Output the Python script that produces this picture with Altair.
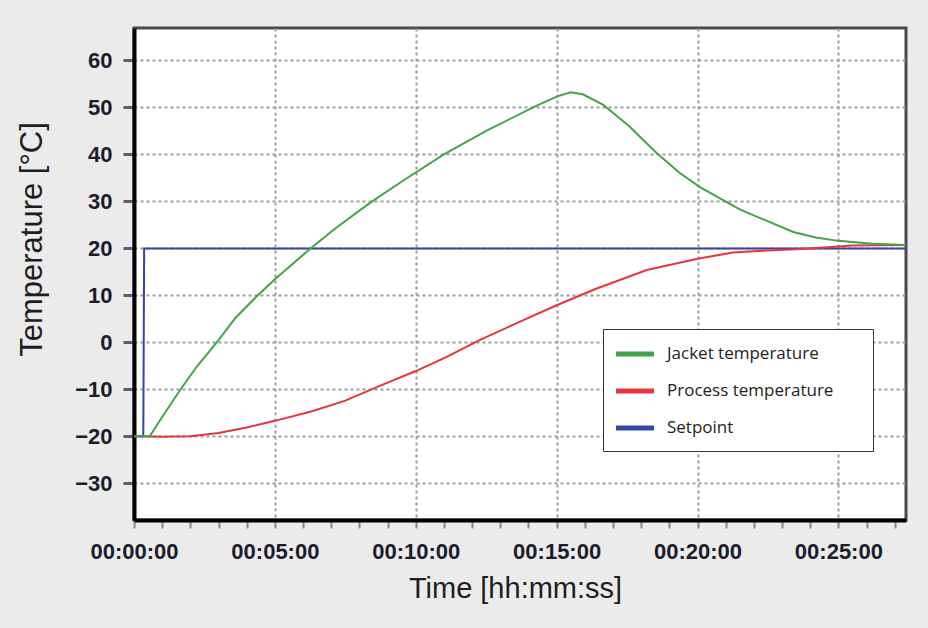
import altair as alt
import pandas as pd

series_names = ["Jacket temperature", "Process temperature", "Setpoint"]
series_colors = ["#3fa548", "#e8353c", "#3546a2"]

# time in minutes, temperature in °C
jacket_t = [0.0, 0.56, 1.03, 1.62, 2.21, 2.98, 3.6, 4.34, 4.99, 6.23, 7.2, 8.4, 9.6, 11.0, 12.5,
            14.2, 15.0, 15.5, 15.93, 16.64, 17.58, 18.53, 19.36, 20.1, 21.5, 22.4,
            23.4, 24.2, 25.0, 26.2, 27.4]
jacket_v = [-20, -20, -15.6, -10.3, -5.3, 0.3, 5.2, 9.7, 13.4, 19.8, 24.5, 29.8, 34.6, 40.0, 45.0,
            50.1, 52.3, 53.2, 52.8, 50.6, 46.0, 40.4, 36.1, 33.0, 28.3, 26.0,
            23.5, 22.3, 21.6, 21.0, 20.7]

process_t = [0.0, 1.0, 2.0, 3.0, 4.0, 5.0, 6.35, 7.5, 8.7, 10.0, 11.1, 12.3, 13.7, 15.0, 16.4,
             18.2, 20.0, 21.25, 22.3, 23.5, 24.5, 25.5, 27.4]
process_v = [-20, -20.1, -20, -19.3, -18.1, -16.7, -14.6, -12.4, -9.3, -6.1, -3.1, 0.6, 4.4, 7.9,
             11.4, 15.4, 17.8, 19.1, 19.5, 19.8, 20.2, 20.6, 20.7]

setpoint_t = [0.0, 0.33, 0.36, 27.4]
setpoint_v = [-20, -20, 20, 20]

x_ticks = list(range(0, 28))
y_ticks = [-30, -20, -10, 0, 10, 20, 30, 40, 50, 60]
x_domain = [0, 27.4]
y_domain = [-37.8, 66.9]


def frame(name, t, v):
    return pd.DataFrame({"t": t, "v": v, "series": name})


df_j = frame(series_names[0], jacket_t, jacket_v)
df_p = frame(series_names[1], process_t, process_v)
df_s = frame(series_names[2], setpoint_t, setpoint_v)

label_font = "Liberation Sans, Arial"
title_font = "Liberation Sans, Arial"
# non-breaking spaces followed by a zero-width space so that trimming keeps them
legend_pad = "\u00a0" * 6 + "\u200b"

x_enc = alt.X(
    "t:Q",
    scale=alt.Scale(domain=x_domain, nice=False, zero=False),
    title="Time [hh:mm:ss]",
    axis=alt.Axis(
        values=x_ticks,
        labelExpr="datum.value % 5 === 0 ? '00:' + (datum.value < 10 ? '0' : '') + datum.value + ':00' : ''",
        labelFont=label_font,
        labelFontSize=22,
        labelFontWeight="bold",
        labelColor="#1c1c2c",
        labelPadding=13,
        labelOverlap=False,
        labelFlush=False,
        tickSize=8,
        tickWidth=2,
        tickColor="#8a8a8a",
        domainColor="black",
        domainWidth=4,
        grid=True,
        gridColor="#9c9c9c",
        gridDash=[3, 3],
        gridWidth=2,
        gridOpacity={"condition": {"test": "datum.value % 5 === 0", "value": 1}, "value": 0},
        titleFont=title_font,
        titleFontSize=29,
        titleFontWeight="normal",
        titleColor="#1e1e1e",
        titleX=381,
        titleY=77,
        titleBaseline="alphabetic",
        titleAlign="center",
    ),
)

y_enc = alt.Y(
    "v:Q",
    scale=alt.Scale(domain=y_domain, nice=False, zero=False),
    title="Temperature [°C]",
    axis=alt.Axis(
        values=y_ticks,
        labelFont=label_font,
        labelFontSize=22,
        labelFontWeight="bold",
        labelColor="#1c1c2c",
        labelPadding=11,
        tickSize=11,
        tickWidth=3,
        tickColor="#5b5b7d",
        domainColor="black",
        domainWidth=4,
        grid=True,
        gridColor="#9c9c9c",
        gridDash=[3, 3],
        gridWidth=2,
        titleFont=title_font,
        titleFontSize=31,
        titleFontWeight="normal",
        titleColor="#1e1e1e",
        titleAngle=-90,
        titleX=-102,
        titleY=211,
        titleAlign="center",
        titleBaseline="middle",
    ),
)

color_enc = alt.Color(
    "series:N",
    scale=alt.Scale(domain=series_names, range=series_colors),
    legend=alt.Legend(
        orient="none",
        legendX=469,
        legendY=301,
        title=None,
        symbolType="M-2,0H2",
        symbolSize=361,
        symbolStrokeWidth=5,
        symbolOffset=7,
        labelFont="Open Sans",
        labelFontSize=17,
        labelColor="#222222",
        labelOffset=20,
        labelLimit=400,
        labelExpr="datum.label + '" + legend_pad + "'",
        fillColor="white",
        strokeColor="#333333",
        padding=13,
        rowPadding=15,
    ),
)


def line(df):
    return alt.Chart(df).mark_line(strokeWidth=2, clip=True).encode(x=x_enc, y=y_enc, color=color_enc)


chart = alt.layer(line(df_s), line(df_p), line(df_j)).properties(
    width=772,
    height=492,
    autosize=alt.AutoSizeParams(type="none"),
    padding={"left": 134, "top": 28, "right": 22, "bottom": 108},
    background="#ebebeb",
).configure_view(
    fill="white",
    stroke="#4a4a4a",
    strokeWidth=3,
)

chart.save("out.html", embed_options={"renderer": "svg", "actions": False})
